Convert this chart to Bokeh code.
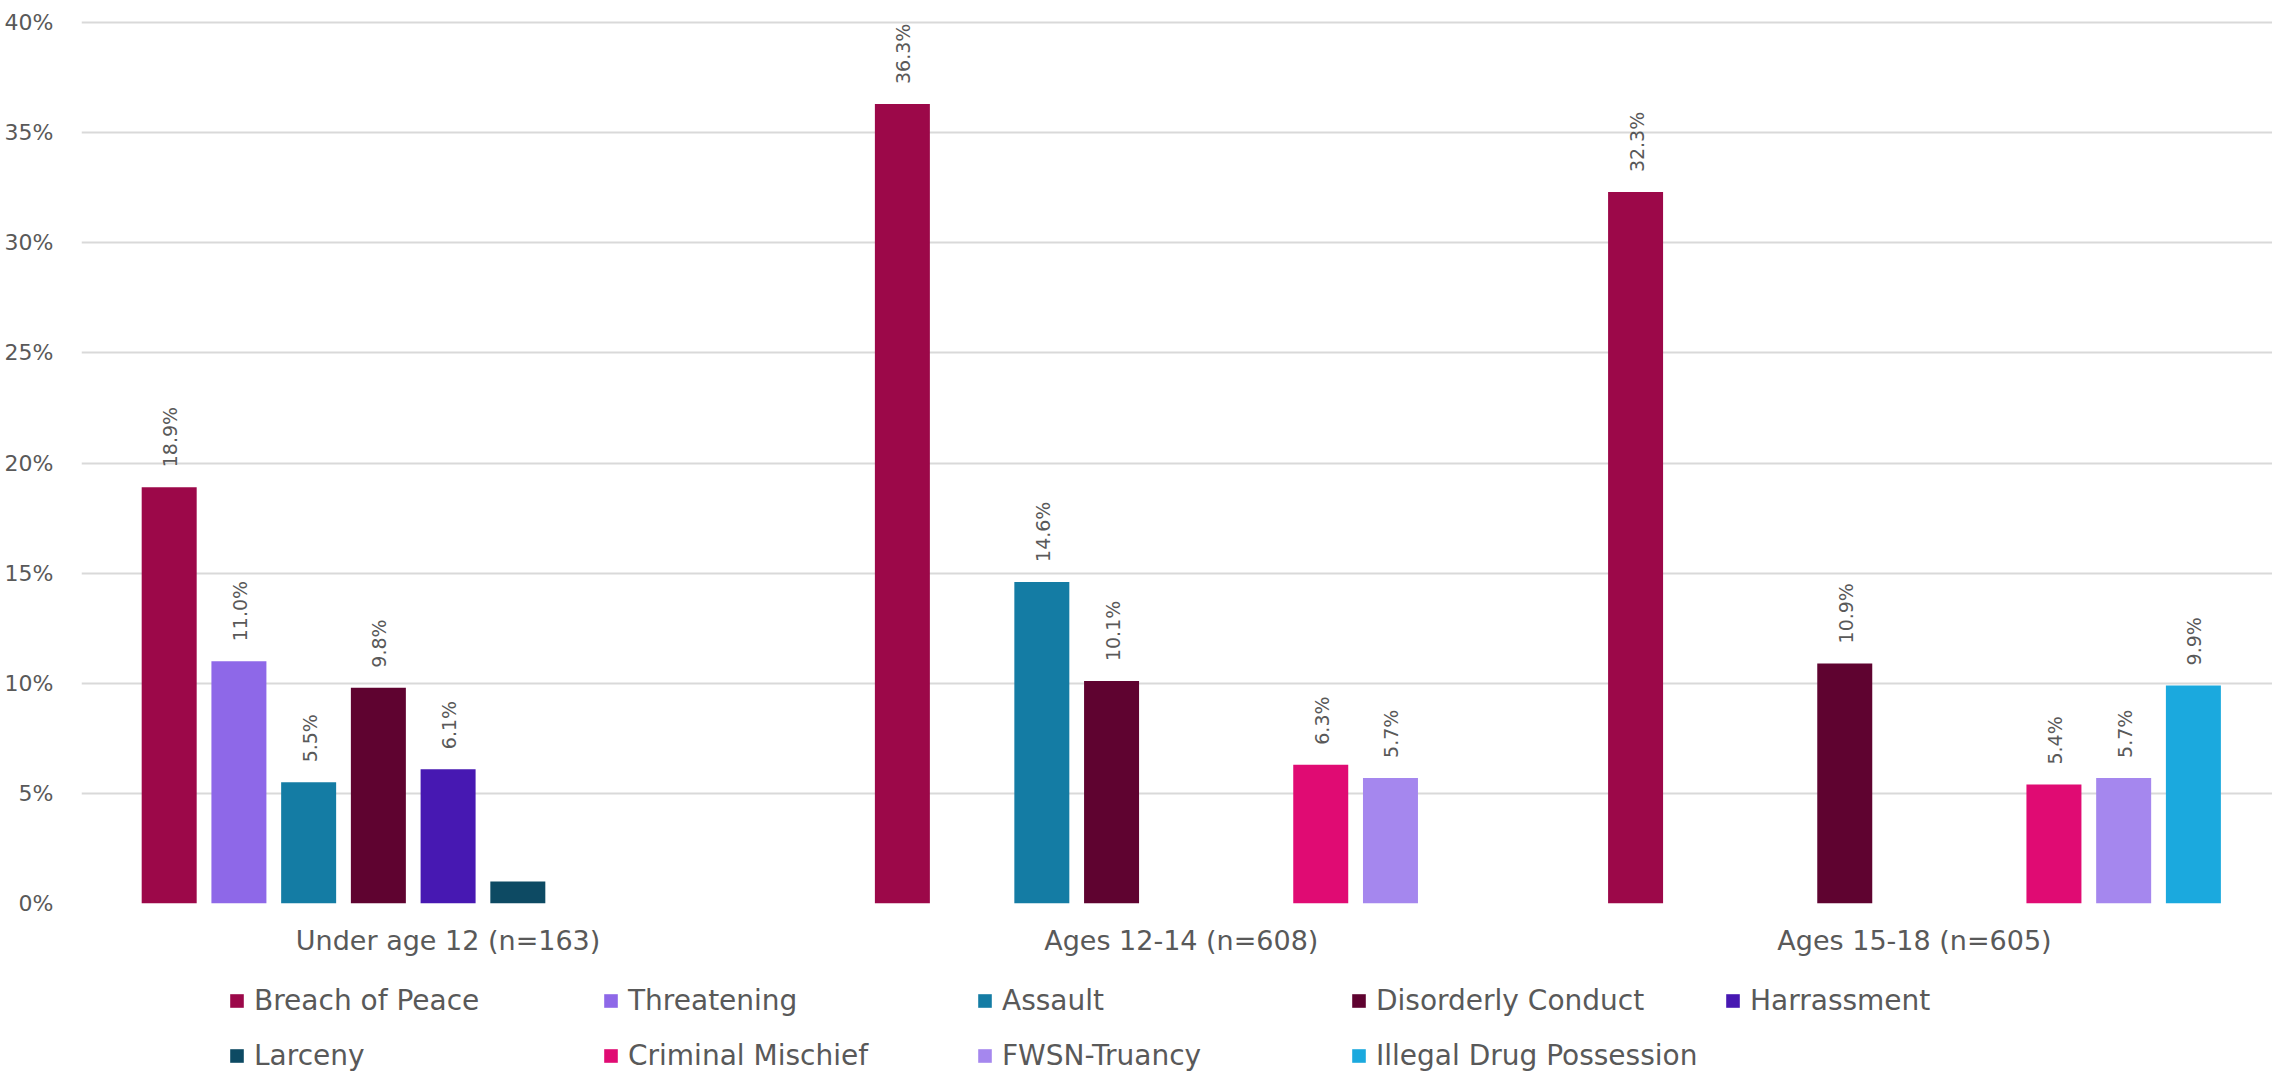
from math import pi
from bokeh.plotting import figure
from bokeh.layouts import column
from bokeh.models import (ColumnDataSource, Legend, LegendItem, FixedTicker,
                          PrintfTickFormatter, Range1d)
from bokeh.embed import file_html
from bokeh.resources import INLINE
from bokeh.core.properties import value

# ---------------- data ----------------
groups = ["Under age 12 (n=163)", "Ages 12-14 (n=608)", "Ages 15-18 (n=605)"]
series = ["Breach of Peace", "Threatening", "Assault", "Disorderly Conduct",
          "Harrassment", "Larceny", "Criminal Mischief", "FWSN-Truancy",
          "Illegal Drug Possession"]
colors = ["#9C0849", "#8E68E8", "#147CA4", "#5F0330", "#4718B2",
          "#0D4A63", "#E00B73", "#A587EE", "#1BA9DE"]

breach_of_peace = [18.9, 36.3, 32.3]
threatening = [11.0, 0.0, 0.0]
assault = [5.5, 14.6, 0.0]
disorderly_conduct = [9.8, 10.1, 10.9]
harrassment = [6.1, 0.0, 0.0]
larceny = [1.0, 0.0, 0.0]
criminal_mischief = [0.0, 6.3, 5.4]
fwsn_truancy = [0.0, 5.7, 5.7]
illegal_drug_possession = [0.0, 0.0, 9.9]

values = [breach_of_peace, threatening, assault, disorderly_conduct, harrassment,
          larceny, criminal_mischief, fwsn_truancy, illegal_drug_possession]

y_ticks = [0, 5, 10, 15, 20, 25, 30, 35, 40]

# ---------------- layout constants ----------------
FONT = "DejaVu Sans"
GREY = "#595959"
PITCH = 0.0951      # slot pitch within a group (in group units)
BAR_W = 0.0750      # bar width (in group units)
LABEL_MIN = 5.0     # values below this are not labelled
LEFT = 81           # left border (px)

p = figure(width=2272, height=960,
           x_range=Range1d(0, 2.9883), y_range=Range1d(0, 41.0),
           output_backend="svg", toolbar_location=None,
           min_border_left=LEFT, min_border_right=0, min_border_top=0,
           min_border_bottom=57)
p.outline_line_color = None
p.background_fill_color = "white"
p.border_fill_color = "white"

lx, ly, lt = [], [], []
for i, (name, vals, col) in enumerate(zip(series, values, colors)):
    xs, tops = [], []
    for g, v in enumerate(vals):
        if v > 0:
            x = g + 0.5 + (i - 4) * PITCH
            xs.append(x)
            tops.append(v)
            if v >= LABEL_MIN:
                lx.append(x)
                ly.append(v)
                lt.append(f"{v:.1f}%")
    src = ColumnDataSource(dict(x=xs, top=tops))
    p.vbar(x="x", top="top", bottom=0, width=BAR_W, source=src,
           fill_color=col, line_color=None)

lsrc = ColumnDataSource(dict(x=lx, y=ly, t=lt))
p.text(x="x", y="y", text="t", source=lsrc, angle=pi / 2,
       text_align="left", text_baseline="middle", y_offset=-20, x_offset=1,
       text_font=value(FONT), text_font_size="19px", text_color=GREY)

# axes
p.xaxis.ticker = FixedTicker(ticks=[0.5, 1.5, 2.5])
p.xaxis.major_label_overrides = {0.5: groups[0], 1.5: groups[1], 2.5: groups[2]}
p.xaxis.axis_line_color = None
p.xaxis.major_tick_line_color = None
p.xaxis.minor_tick_line_color = None
p.xaxis.major_label_text_font = FONT
p.xaxis.major_label_text_font_size = "27px"
p.xaxis.major_label_text_color = GREY
p.xaxis.major_label_standoff = 15

p.yaxis.ticker = FixedTicker(ticks=y_ticks)
p.yaxis.formatter = PrintfTickFormatter(format="%d%%")
p.yaxis.axis_line_color = None
p.yaxis.major_tick_line_color = None
p.yaxis.minor_tick_line_color = None
p.yaxis.major_label_text_font = FONT
p.yaxis.major_label_text_font_size = "22px"
p.yaxis.major_label_text_color = GREY
p.yaxis.major_label_standoff = 22

p.xgrid.grid_line_color = None
p.ygrid.grid_line_color = "#D9D9D9"
p.ygrid.grid_line_width = 2

# ---------------- legend (own strip below the chart) ----------------
pl = figure(width=2272, height=112, x_range=Range1d(0, 1), y_range=Range1d(0, 1),
            output_backend="svg", toolbar_location=None,
            min_border_left=LEFT, min_border_right=0, min_border_top=0,
            min_border_bottom=0)
pl.axis.visible = False
pl.grid.visible = False
pl.outline_line_color = None
pl.background_fill_color = "white"
pl.border_fill_color = "white"

nan = float("nan")
items = []
for name, col in zip(series, colors):
    # a single undefined (invisible) datum, so that the legend swatch is drawn
    r = pl.vbar(x=[nan], top=[nan], width=0.1, fill_color=col, line_color=None)
    items.append(LegendItem(label=name, renderers=[r]))

legend = Legend(items=items, ncols=5, orientation="horizontal",
                glyph_width=17, glyph_height=17, label_standoff=9,
                label_width=326, label_height=30, spacing=22,
                padding=0, margin=0,
                label_text_font=FONT, label_text_font_size="28px",
                label_text_color=GREY, border_line_color=None,
                background_fill_alpha=0, location=(228 - LEFT, 0))
pl.add_layout(legend, "center")

layout = column(p, pl, spacing=0)
open("out.html", "w").write(file_html(layout, INLINE))
